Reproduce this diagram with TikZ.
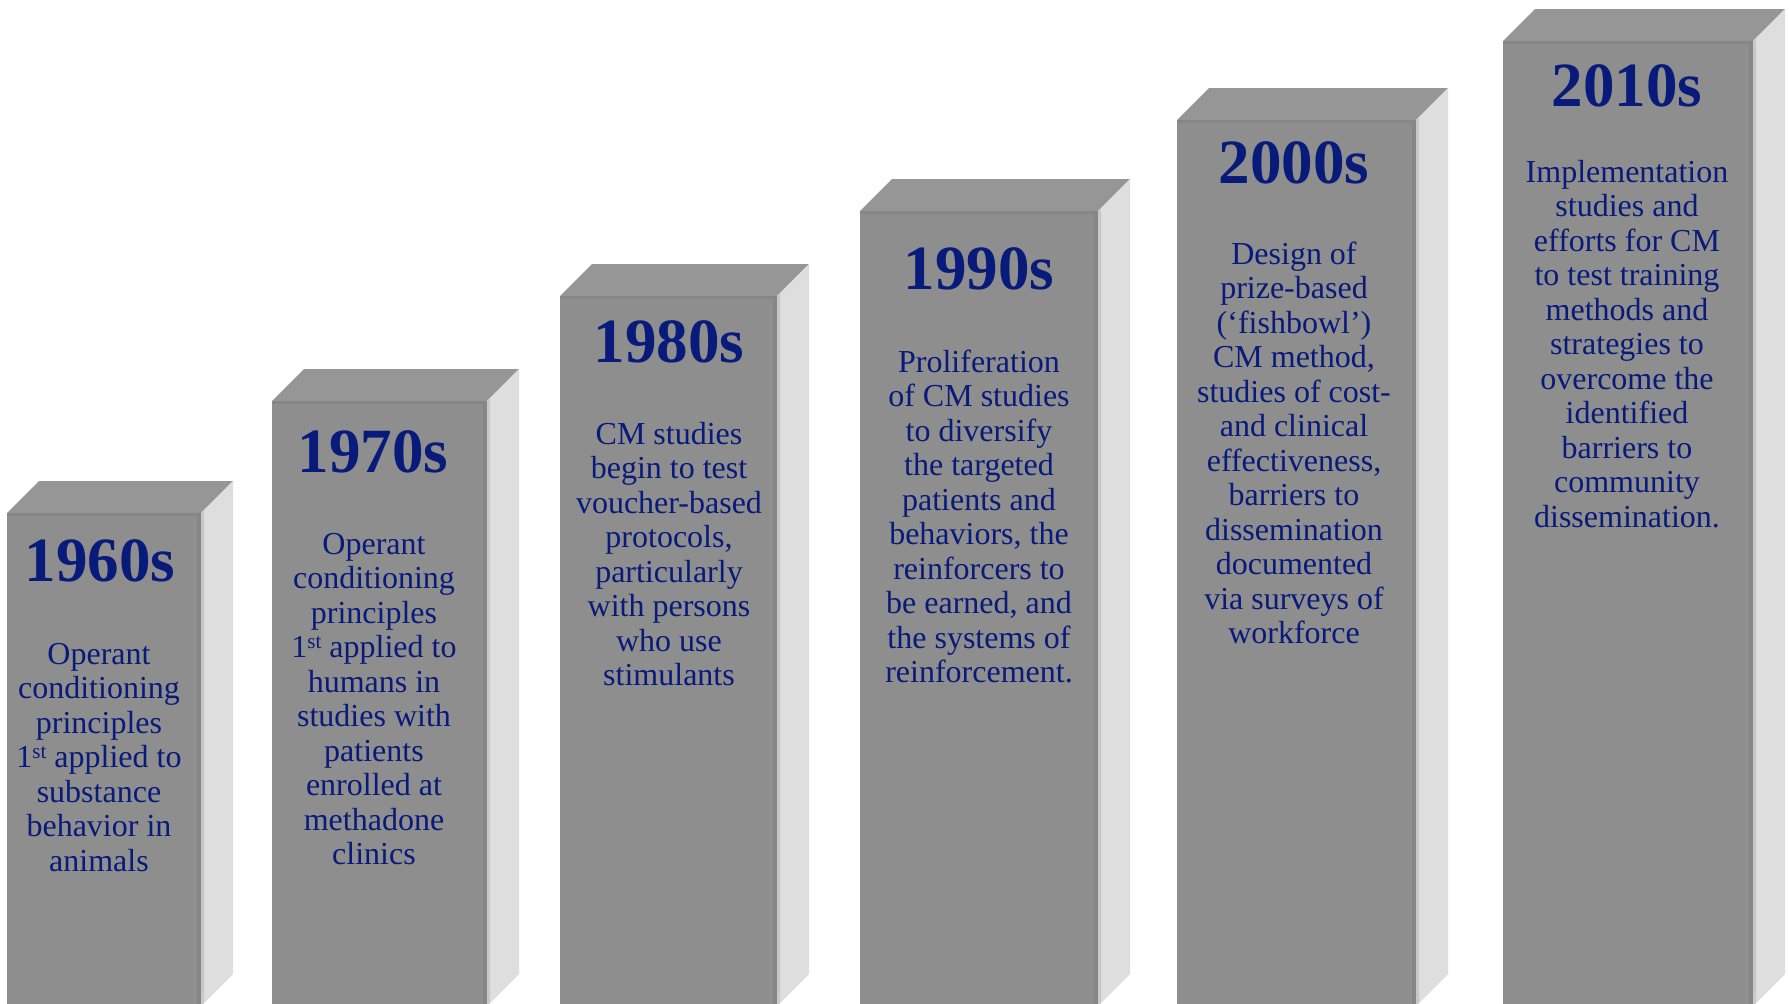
\documentclass[tikz,border=0pt]{standalone}
\usepackage{fontspec}
\setmainfont{Liberation Serif}
\definecolor{navy}{RGB}{8,26,122}
\definecolor{frontgray}{RGB}{142,142,142}
\definecolor{topgray}{RGB}{150,150,150}
\definecolor{sidegray}{RGB}{222,222,222}
\definecolor{rimgray}{RGB}{134,134,134}
\definecolor{siderim}{RGB}{200,200,200}
\tikzset{
  decade/.style={anchor=base, inner sep=0pt, text=navy,
    font=\fontsize{31.5}{34}\selectfont\bfseries},
  blurb/.style={anchor=base, inner sep=0pt, text=navy,
    font=\fontsize{16}{17.25}\selectfont},
}
% one 3-D bar: left x, right x, top y of the front face (y grows downward)
\newcommand{\decadebar}[3]{%
  \def\dd{32}\def\bot{1006}%
  \fill[topgray] (#1,#3) -- (#2,#3) -- (#2+\dd,#3-\dd) -- (#1+\dd,#3-\dd) -- cycle;
  \fill[sidegray] (#2,#3) -- (#2+\dd,#3-\dd) -- (#2+\dd,\bot-\dd) -- (#2,\bot) -- cycle;
  \fill[siderim] (#2,#3) -- (#2+3,#3-3) -- (#2+3,\bot-3) -- (#2,\bot) -- cycle;
  \fill[frontgray] (#1,#3) rectangle (#2,\bot);
  \fill[rimgray] (#1,#3) rectangle (#2,#3+3);
  \fill[rimgray] (#2-4,#3) rectangle (#2,\bot);
}
\newcommand{\blurbtext}[1]{\parbox[t]{120pt}{\centering #1}}
% ordinal suffix, small and slightly raised
\newcommand{\ordsup}[1]{\raisebox{4.3pt}{\fontsize{10.5}{10.5}\selectfont #1}}
\begin{document}
\begin{tikzpicture}[x=0.5pt,y=-0.5pt]
\useasboundingbox (0,0) rectangle (1789,1003);
\clip (0,0) rectangle (1789,1003);
\fill[white] (0,0) rectangle (1789,1003);

\decadebar{7}{201}{513}
\decadebar{272}{487}{401}
\decadebar{560}{777}{296}
\decadebar{860}{1098}{211}
\decadebar{1177}{1416}{120}
\decadebar{1503}{1753}{41}

\node[decade] (d60) at (100,581) {1960s};
\node[blurb] (t60) at (99,664) {\blurbtext{Operant\\ conditioning\\ principles\\ 1\ordsup{st} applied to\\ substance\\ behavior in\\ animals}};

\node[decade] (d70) at (373,472) {1970s};
\node[blurb] (t70) at (374,554) {\blurbtext{Operant\\ conditioning\\ principles\\ 1\ordsup{st} applied to\\ humans in\\ studies with\\ patients\\ enrolled at\\ methadone\\ clinics}};

\node[decade] (d80) at (669,362) {1980s};
\node[blurb] (t80) at (669,444) {\blurbtext{CM studies\\ begin to test\\ voucher-based\\ protocols,\\ particularly\\ with persons\\ who use\\ stimulants}};

\node[decade] (d90) at (979,289) {1990s};
\node[blurb] (t90) at (979,372) {\blurbtext{Proliferation\\ of CM studies\\ to diversify\\ the targeted\\ patients and\\ behaviors, the\\ reinforcers to\\ be earned, and\\ the systems of\\ reinforcement.}};

\node[decade] (d00) at (1294,183) {2000s};
\node[blurb] (t00) at (1294,264) {\blurbtext{Design of\\ prize-based\\ (‘fishbowl’)\\ CM method,\\ studies of cost-\\ and clinical\\ effectiveness,\\ barriers to\\ dissemination\\ documented\\ via surveys of\\ workforce}};

\node[decade] (d10) at (1627,106) {2010s};
\node[blurb] (t10) at (1627,182) {\blurbtext{Implementation\\ studies and\\ efforts for CM\\ to test training\\ methods and\\ strategies to\\ overcome the\\ identified\\ barriers to\\ community\\ dissemination.}};
\end{tikzpicture}
\end{document}
